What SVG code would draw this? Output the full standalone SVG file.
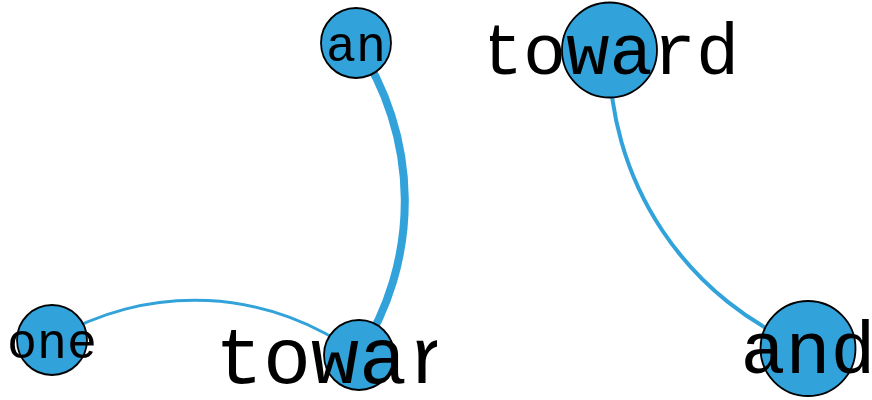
<svg xmlns="http://www.w3.org/2000/svg" width="872" height="400" viewBox="0 0 872 400">
  <defs>
    <clipPath id="clipL"><rect x="0" y="0" width="437" height="400"/></clipPath>
    <clipPath id="clipR"><rect x="490" y="0" width="382" height="400"/></clipPath>
    <style>
      .edge { fill: none; stroke: #31a2da; stroke-linecap: butt; }
      .node circle { fill: #31a2da; stroke: #000; stroke-width: 1.8; }
      .node text { font-family: "Liberation Mono", "DejaVu Sans Mono", monospace; fill: #000; text-anchor: middle; }
    </style>
  </defs>
  <rect width="872" height="400" fill="#fff"/>
  <g id="panel-left" clip-path="url(#clipL)">
    <g id="connectors-left">
      <path class="edge" stroke-width="8" d="M356,43 A281,281 0 0,1 359,355"/>
      <path class="edge" stroke-width="3" d="M52,340 A275,275 0 0,1 359,355"/>
    </g>
    <g id="node-an" class="node">
      <circle cx="356" cy="43" r="35"/>
      <text x="356" y="60.5" font-size="50">an</text>
    </g>
    <g id="node-one" class="node">
      <circle cx="52" cy="340" r="35"/>
      <text x="52" y="357.5" font-size="50">one</text>
    </g>
    <g id="node-toward-left" class="node">
      <circle cx="359" cy="355" r="35"/>
      <text x="359" y="383" font-size="80">toward</text>
    </g>
  </g>
  <g id="panel-right" clip-path="url(#clipR)">
    <g id="connectors-right">
      <path class="edge" stroke-width="4" d="M609.5,50 A315,315 0 0,0 808,348.5"/>
    </g>
    <g id="node-toward-right" class="node">
      <circle cx="609.5" cy="50" r="47.5"/>
      <text x="609.5" y="74" font-size="72">toward</text>
    </g>
    <g id="node-and" class="node">
      <circle cx="808" cy="348.5" r="47.5"/>
      <text x="808" y="373" font-size="75">and</text>
    </g>
  </g>
</svg>
